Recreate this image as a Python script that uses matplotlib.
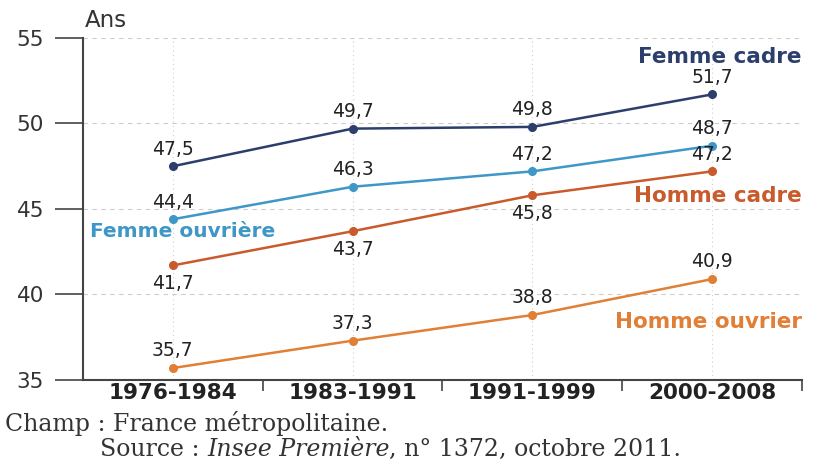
import matplotlib
matplotlib.use('Agg')
import matplotlib.pyplot as plt

periods = ['1976-1984', '1983-1991', '1991-1999', '2000-2008']
femme_cadre = [47.5, 49.7, 49.8, 51.7]
femme_ouvriere = [44.4, 46.3, 47.2, 48.7]
homme_cadre = [41.7, 43.7, 45.8, 47.2]
homme_ouvrier = [35.7, 37.3, 38.8, 40.9]
y_ticks = [35, 40, 45, 50, 55]

plt.rcParams['font.family'] = ['DejaVu Sans']

fig = plt.figure(figsize=(8.19, 4.61), dpi=100)
ax = fig.add_axes((0.1013, 0.1757, 0.8779, 0.7419))

x = list(range(len(periods)))

# values, colour, value label above ('a') or below ('b') each point
series = [
    (femme_cadre, '#2c3e6b', ['a', 'a', 'a', 'a']),
    (femme_ouvriere, '#3e97c6', ['a', 'a', 'a', 'a']),
    (homme_cadre, '#c95a2b', ['b', 'b', 'b', 'a']),
    (homme_ouvrier, '#e07f35', ['a', 'a', 'a', 'a']),
]

for vals, col, pos in series:
    ax.plot(x, vals, color=col, lw=1.8, marker='o', ms=5.5, zorder=3)
    for xi, v, p in zip(x, vals, pos):
        off = 5.5 if p == 'a' else -6
        va = 'bottom' if p == 'a' else 'top'
        ax.annotate(f'{v:.1f}'.replace('.', ','), (xi, v), xytext=(0, off),
                    textcoords='offset points', ha='center', va=va,
                    fontsize=13.5, color='#222222')

# series names
ax.text(3.5, 53.9, 'Femme cadre', color='#2c3e6b', fontsize=15.5, fontweight='bold',
        ha='right', va='center')
ax.text(-0.46, 43.7, 'Femme ouvrière', color='#3e97c6', fontsize=14.5, fontweight='bold',
        ha='left', va='center')
ax.text(3.5, 45.75, 'Homme cadre', color='#c95a2b', fontsize=15.5, fontweight='bold',
        ha='right', va='center')
ax.text(3.5, 38.4, 'Homme ouvrier', color='#e07f35', fontsize=15.5, fontweight='bold',
        ha='right', va='center')

ax.set_xlim(-0.5, 3.5)
ax.set_ylim(35, 55)
ax.set_yticks(y_ticks)
ax.set_yticklabels([str(t) for t in y_ticks], fontsize=15.5, color='#333333')

# boundary ticks on x axis, labels centred in each band
ax.set_xticks([0.5, 1.5, 2.5, 3.5])
ax.set_xticklabels([])
ax.set_xticks(x, minor=True)
ax.set_xticklabels(periods, minor=True, fontsize=15.5, fontweight='bold', color='#222222')
ax.tick_params(axis='x', which='major', direction='out', length=8, width=1.2, color='#444444')
ax.tick_params(axis='x', which='minor', length=0, pad=2)
ax.tick_params(axis='y', direction='out', length=20, width=1.2, color='#444444', pad=8)

for s in ['top', 'right']:
    ax.spines[s].set_visible(False)
for s in ['left', 'bottom']:
    ax.spines[s].set_linewidth(1.5)
    ax.spines[s].set_color('#444444')

for t in y_ticks[1:]:
    ax.axhline(t, color='#cccccc', lw=0.8, ls=(0, (4, 4)), zorder=0)
for xi in x:
    ax.axvline(xi, color='#d0d0d0', lw=0.8, ls=(0, (1, 3)), zorder=0)

fig.text(0.104, 0.955, 'Ans', fontsize=16.5, color='#333333', va='center')

# footer
serif = ['DejaVu Serif']
fig.text(0.006, 0.066, 'Champ : France métropolitaine.', family=serif, fontsize=17,
         color='#333333', va='baseline')
fig.canvas.draw()
r = fig.canvas.get_renderer()
xpos = 0.122
for txt, style in [('Source : ', 'normal'), ('Insee Première', 'italic'),
                   (', n° 1372, octobre 2011.', 'normal')]:
    t = fig.text(xpos, 0.011, txt, family=serif, fontsize=17, style=style,
                 color='#333333', va='baseline')
    bb = t.get_window_extent(renderer=r)
    xpos += bb.width / fig.bbox.width

fig.savefig('out.png', dpi=100)
